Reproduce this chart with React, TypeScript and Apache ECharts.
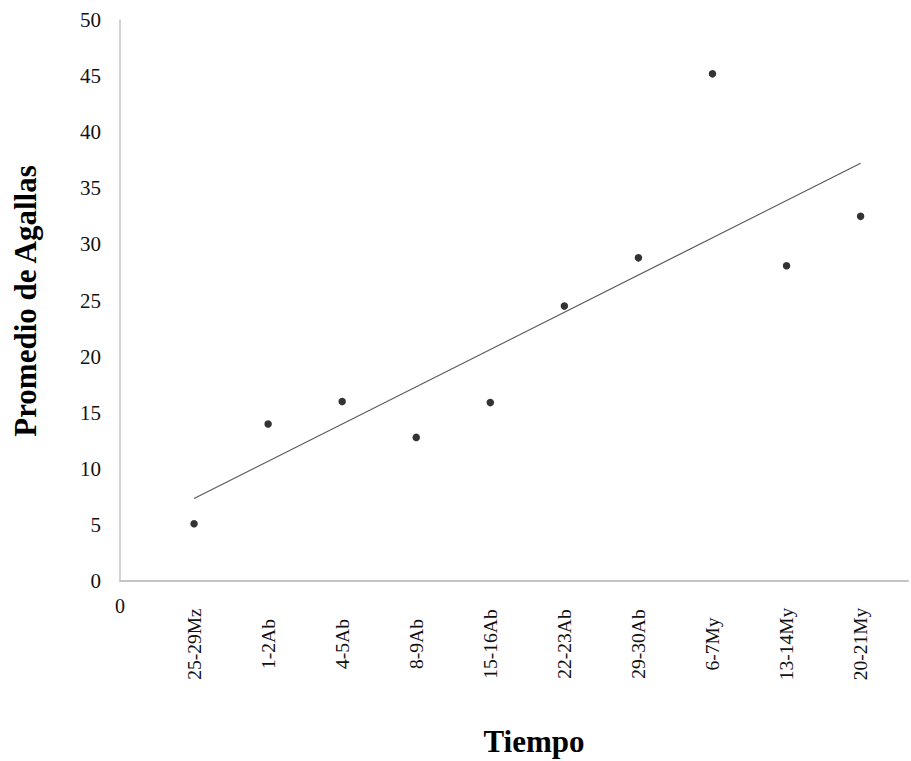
import React, { useEffect, useRef } from "react";
import * as echarts from "echarts";

const categories: string[] = [
  "25-29Mz", "1-2Ab", "4-5Ab", "8-9Ab", "15-16Ab",
  "22-23Ab", "29-30Ab", "6-7My", "13-14My", "20-21My",
];
const promedioAgallas: number[] = [5.1, 14.0, 16.0, 12.8, 15.9, 24.5, 28.8, 45.2, 28.1, 32.5];
const yTicks = { min: 0, max: 50, interval: 5 };
const xTitle = "Tiempo";
const yTitle = "Promedio de Agallas";

const FONT = "'Liberation Serif', 'Times New Roman', serif";

function linearFit(ys: number[]) {
  const n = ys.length;
  const xs = ys.map((_, i) => i + 1);
  const mx = xs.reduce((a, b) => a + b, 0) / n;
  const my = ys.reduce((a, b) => a + b, 0) / n;
  let sxy = 0;
  let sxx = 0;
  for (let i = 0; i < n; i++) {
    sxy += (xs[i] - mx) * (ys[i] - my);
    sxx += (xs[i] - mx) * (xs[i] - mx);
  }
  const slope = sxy / sxx;
  const intercept = my - slope * mx;
  return { slope, intercept };
}

export default function App() {
  const ref = useRef<HTMLDivElement>(null);

  useEffect(() => {
    if (!ref.current) return;
    const chart = echarts.init(ref.current, null, { renderer: "svg" });
    const fit = linearFit(promedioAgallas);
    const trend = [1, categories.length].map((x) => [x, fit.intercept + fit.slope * x]);
    const xMax = 10.64;

    chart.setOption({
      animation: false,
      backgroundColor: "#ffffff",
      grid: { left: 120, top: 20, right: 0, bottom: 180, containLabel: false },
      xAxis: [
        {
          type: "value",
          min: 0,
          max: xMax,
          interval: 1,
          axisLine: { show: true, lineStyle: { color: "#c4c4c4", width: 2 } },
          axisTick: { show: false },
          splitLine: { show: false },
          axisLabel: {
            rotate: 90,
            align: "center",
            verticalAlign: "middle",
            margin: 63,
            fontFamily: FONT,
            fontSize: 19.5,
            color: "#111111",
            showMinLabel: true,
            showMaxLabel: true,
            formatter: (v: number) => {
              const i = Math.round(v);
              if (Math.abs(v - i) > 1e-6 || i < 1 || i > categories.length) return "";
              return categories[i - 1];
            },
          },
        },
        {
          type: "value",
          position: "bottom",
          min: 0,
          max: xMax,
          interval: 1,
          axisLine: { show: false },
          axisTick: { show: false },
          splitLine: { show: false },
          axisLabel: {
            margin: 15,
            fontFamily: FONT,
            fontSize: 20,
            color: "#111111",
            formatter: (v: number) => (v === 0 ? "0" : ""),
          },
        },
      ],
      yAxis: {
        type: "value",
        min: yTicks.min,
        max: yTicks.max,
        interval: yTicks.interval,
        axisLine: { show: true, lineStyle: { color: "#c4c4c4", width: 1.5 } },
        axisTick: { show: false },
        splitLine: { show: false },
        axisLabel: {
          margin: 19,
          fontFamily: FONT,
          fontSize: 21,
          color: "#111111",
        },
      },
      series: [
        {
          type: "line",
          xAxisIndex: 0,
          data: trend,
          symbol: "none",
          lineStyle: { color: "#5a5a5a", width: 1.2 },
          silent: true,
          z: 2,
        },
        {
          type: "scatter",
          xAxisIndex: 0,
          data: promedioAgallas.map((v, i) => [i + 1, v]),
          symbol: "circle",
          symbolSize: 7.5,
          itemStyle: { color: "#000000" },
          z: 3,
        },
      ],
      graphic: [
        {
          type: "text",
          x: 25,
          y: 301,
          rotation: Math.PI / 2,
          style: {
            text: yTitle,
            fontFamily: FONT,
            fontSize: 31,
            fontWeight: "bold",
            fill: "#000000",
            align: "center",
            verticalAlign: "middle",
          },
        },
        {
          type: "text",
          x: 534,
          y: 741,
          style: {
            text: xTitle,
            fontFamily: FONT,
            fontSize: 31,
            fontWeight: "bold",
            fill: "#000000",
            align: "center",
            verticalAlign: "middle",
          },
        },
      ],
    });

    return () => chart.dispose();
  }, []);

  return (
    <div
      ref={ref}
      style={{ position: "fixed", left: 0, top: 0, width: 911, height: 761, background: "#fff" }}
    />
  );
}
